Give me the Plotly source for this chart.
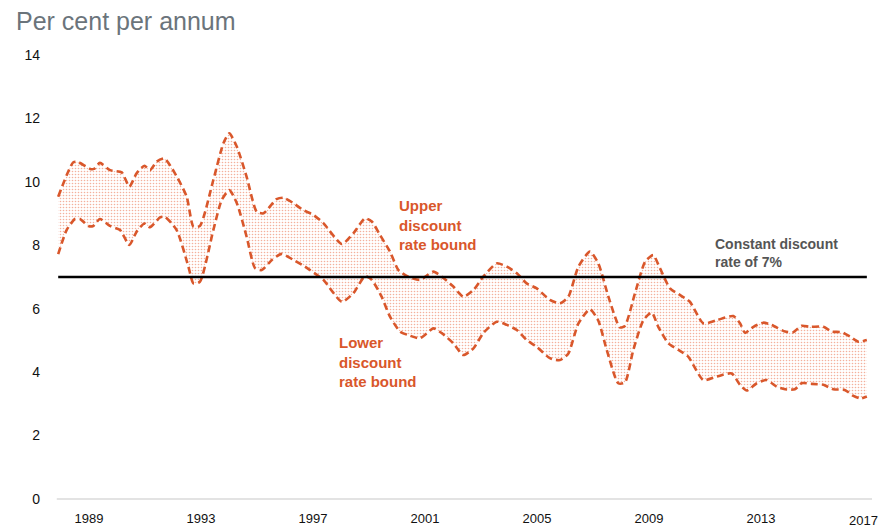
import plotly.graph_objects as go

# Upper discount rate bound (per cent per annum)
upper_years = [1987.90, 1988.44, 1988.62, 1989.04, 1989.18, 1989.39, 1989.75, 1990.17, 1990.44, 1990.70,
               1990.98, 1991.18, 1991.42, 1991.69, 1992.07, 1992.49, 1992.73, 1992.96, 1993.44, 1993.80,
               1994.01, 1994.28, 1994.63, 1994.99, 1995.23, 1995.70, 1995.94, 1996.30, 1996.65, 1997.01,
               1997.37, 1998.03, 1998.44, 1998.86, 1999.10, 1999.39, 1999.75, 2000.05, 2000.40, 2000.82,
               2001.30, 2001.60, 2002.01, 2002.37, 2002.73, 2003.08, 2003.56, 2003.92, 2004.28, 2004.63,
               2004.99, 2005.46, 2005.82, 2006.12, 2006.48, 2006.89, 2007.19, 2007.55, 2007.96, 2008.14,
               2008.50, 2008.86, 2009.15, 2009.39, 2009.75, 2010.11, 2010.46, 2010.94, 2011.42, 2012.01,
               2012.25, 2012.43, 2012.73, 2013.08, 2013.38, 2013.86, 2014.15, 2014.45, 2014.75, 2015.23,
               2015.53, 2015.88, 2016.18, 2016.48, 2016.78]
upper_rate = [9.53, 10.62, 10.62, 10.41, 10.41, 10.60, 10.37, 10.30, 9.85, 10.27,
              10.51, 10.37, 10.64, 10.74, 10.27, 9.53, 8.59, 8.61, 10.06, 11.22,
              11.53, 11.11, 10.16, 9.06, 9.01, 9.46, 9.50, 9.33, 9.11, 8.96,
              8.70, 8.04, 8.38, 8.85, 8.75, 8.33, 7.80, 7.22, 7.01, 6.91,
              7.17, 7.01, 6.70, 6.38, 6.59, 7.01, 7.43, 7.33, 7.12, 6.80,
              6.64, 6.28, 6.17, 6.38, 7.33, 7.80, 7.43, 6.38, 5.41, 5.46,
              6.49, 7.48, 7.69, 7.28, 6.64, 6.43, 6.22, 5.54, 5.64, 5.77,
              5.54, 5.24, 5.43, 5.56, 5.49, 5.28, 5.26, 5.46, 5.43, 5.43,
              5.28, 5.26, 5.12, 4.96, 5.01]

# Lower discount rate bound (per cent per annum)
lower_years = [1987.90, 1988.20, 1988.50, 1988.68, 1988.98, 1989.15, 1989.39, 1989.75, 1990.11, 1990.44,
               1990.70, 1990.98, 1991.18, 1991.54, 1991.71, 1992.13, 1992.55, 1992.73, 1992.96, 1993.44,
               1993.74, 1994.01, 1994.28, 1994.63, 1994.93, 1995.17, 1995.53, 1995.88, 1996.30, 1996.71,
               1996.89, 1997.37, 1998.03, 1998.44, 1998.86, 1999.10, 1999.45, 1999.75, 2000.11, 2000.40,
               2000.82, 2001.30, 2001.60, 2002.01, 2002.37, 2002.73, 2003.08, 2003.56, 2003.92, 2004.28,
               2004.63, 2004.99, 2005.46, 2005.82, 2006.12, 2006.48, 2006.89, 2007.19, 2007.49, 2007.90,
               2008.14, 2008.44, 2008.80, 2009.10, 2009.33, 2009.69, 2010.05, 2010.40, 2010.94, 2011.42,
               2011.95, 2012.25, 2012.49, 2012.85, 2013.20, 2013.56, 2013.86, 2014.21, 2014.45, 2014.81,
               2015.23, 2015.58, 2015.99, 2016.30, 2016.55, 2016.78]
lower_rate = [7.72, 8.48, 8.83, 8.83, 8.61, 8.61, 8.83, 8.61, 8.48, 8.01,
              8.43, 8.69, 8.57, 8.88, 8.90, 8.48, 7.33, 6.80, 6.85, 8.48,
              9.43, 9.74, 9.33, 8.27, 7.28, 7.22, 7.54, 7.73, 7.54, 7.33,
              7.22, 6.91, 6.22, 6.49, 7.03, 6.91, 6.38, 5.75, 5.28, 5.17,
              5.07, 5.38, 5.23, 4.91, 4.54, 4.75, 5.23, 5.59, 5.49, 5.33,
              5.01, 4.80, 4.44, 4.38, 4.59, 5.54, 5.98, 5.62, 4.70, 3.65,
              3.67, 4.70, 5.64, 5.88, 5.43, 4.91, 4.70, 4.49, 3.75, 3.86,
              3.96, 3.60, 3.42, 3.65, 3.75, 3.54, 3.46, 3.46, 3.65, 3.63,
              3.60, 3.46, 3.44, 3.25, 3.17, 3.23]

constant_rate = 7
x_tick_years = [1989, 1993, 1997, 2001, 2005, 2009, 2013]
last_year_label = "2017"
y_ticks = [0, 2, 4, 6, 8, 10, 12, 14]

ORANGE = "#d9572b"
FONT = "Liberation Sans, Arial, sans-serif"

fig = go.Figure()

fig.add_trace(go.Scatter(
    x=lower_years, y=lower_rate, mode="lines",
    line=dict(color=ORANGE, width=2.6, dash="7px,4px", shape="spline", smoothing=0.6),
    hoverinfo="skip", showlegend=False))
fig.add_trace(go.Scatter(
    x=upper_years, y=upper_rate, mode="lines",
    line=dict(color=ORANGE, width=2.6, dash="7px,4px", shape="spline", smoothing=0.6),
    fill="tonexty", fillcolor="rgba(0,0,0,0)",
    fillpattern=dict(shape=".", fgcolor="#e8643c", bgcolor="rgba(255,255,255,0)", size=3, solidity=0.24),
    hoverinfo="skip", showlegend=False))

x_start = upper_years[0]
x_end = upper_years[-1]
fig.add_trace(go.Scatter(
    x=[x_start, x_end], y=[constant_rate, constant_rate], mode="lines",
    line=dict(color="black", width=2.5), hoverinfo="skip", showlegend=False))

# baseline at zero
fig.add_shape(type="line", xref="x", yref="y", x0=x_start - 0.05, x1=x_end + 0.2, y0=0, y1=0,
              line=dict(color="#e3e3e3", width=2), layer="below")

fig.update_layout(
    width=879, height=519,
    margin=dict(l=42, r=15, t=42, b=22),
    paper_bgcolor="white", plot_bgcolor="white",
    font=dict(family=FONT, color="#111111", size=13),
    xaxis=dict(range=[1987.607, 2016.964], tickvals=x_tick_years,
               ticktext=[str(v) for v in x_tick_years], showgrid=False, zeroline=False,
               showline=False, ticks="", automargin=False, ticklabelstandoff=4,
               tickfont=dict(size=13, color="#111111")),
    yaxis=dict(range=[-0.19, 14.16], tickvals=y_ticks, showgrid=False, zeroline=False,
               showline=False, ticks="", automargin=False, ticklabelstandoff=9,
               tickfont=dict(size=14, color="#111111")),
    annotations=[
        dict(text="Per cent per annum", xref="paper", yref="paper", x=-0.0438, y=1.0,
             xanchor="left", yanchor="middle", showarrow=False, yshift=29,
             font=dict(size=25, color="#6b747b", family=FONT)),
        dict(text=last_year_label, xref="paper", yref="paper", x=1.0, y=0, xanchor="right", yanchor="top",
             showarrow=False, xshift=8, yshift=-6, font=dict(size=13, color="#111111")),
        dict(text="<b>Upper<br>discount<br>rate bound</b>", x=2000.0, y=7.7, xanchor="left",
             yanchor="bottom", align="left", showarrow=False,
             font=dict(size=15, color=ORANGE, family=FONT)),
        dict(text="<b>Lower<br>discount<br>rate bound</b>", x=1997.85, y=3.38, xanchor="left",
             yanchor="bottom", align="left", showarrow=False,
             font=dict(size=15, color=ORANGE, family=FONT)),
        dict(text="<b>Constant discount<br>rate of 7%</b>", x=2011.28, y=7.16, xanchor="left",
             yanchor="bottom", align="left", showarrow=False,
             font=dict(size=14, color="#555555", family=FONT)),
    ],
)

fig.write_html("out.html")
